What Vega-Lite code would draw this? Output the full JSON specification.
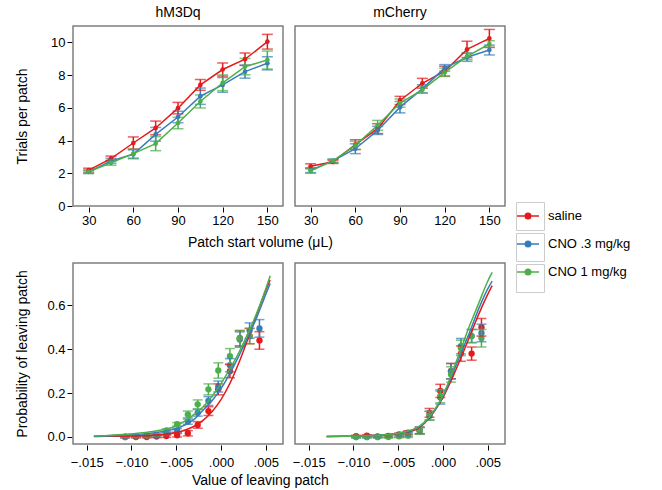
{
  "$schema": "https://vega.github.io/schema/vega-lite/v6.json",
  "padding": {"left": 15, "top": 6, "right": 5, "bottom": 5},
  "background": "white",
  "datasets": {
    "top": [
      {"v":"hM3Dq","g":"saline","vol":30,"m":2.19,"lo":2.07,"hi":2.31},
      {"v":"hM3Dq","g":"saline","vol":45,"m":2.9,"lo":2.75,"hi":3.05},
      {"v":"hM3Dq","g":"saline","vol":60,"m":3.85,"lo":3.48,"hi":4.22},
      {"v":"hM3Dq","g":"saline","vol":75,"m":4.77,"lo":4.35,"hi":5.19},
      {"v":"hM3Dq","g":"saline","vol":90,"m":5.98,"lo":5.63,"hi":6.33},
      {"v":"hM3Dq","g":"saline","vol":105,"m":7.4,"lo":7.07,"hi":7.73},
      {"v":"hM3Dq","g":"saline","vol":120,"m":8.34,"lo":7.94,"hi":8.74},
      {"v":"hM3Dq","g":"saline","vol":135,"m":8.97,"lo":8.59,"hi":9.35},
      {"v":"hM3Dq","g":"saline","vol":150,"m":10.04,"lo":9.59,"hi":10.49},
      {"v":"hM3Dq","g":"CNO .3 mg/kg","vol":30,"m":2.09,"lo":1.99,"hi":2.19},
      {"v":"hM3Dq","g":"CNO .3 mg/kg","vol":45,"m":2.76,"lo":2.61,"hi":2.91},
      {"v":"hM3Dq","g":"CNO .3 mg/kg","vol":60,"m":3.16,"lo":2.89,"hi":3.43},
      {"v":"hM3Dq","g":"CNO .3 mg/kg","vol":75,"m":4.38,"lo":3.96,"hi":4.8},
      {"v":"hM3Dq","g":"CNO .3 mg/kg","vol":90,"m":5.44,"lo":5.09,"hi":5.79},
      {"v":"hM3Dq","g":"CNO .3 mg/kg","vol":105,"m":6.71,"lo":6.21,"hi":7.21},
      {"v":"hM3Dq","g":"CNO .3 mg/kg","vol":120,"m":7.4,"lo":6.95,"hi":7.85},
      {"v":"hM3Dq","g":"CNO .3 mg/kg","vol":135,"m":8.21,"lo":7.81,"hi":8.61},
      {"v":"hM3Dq","g":"CNO .3 mg/kg","vol":150,"m":8.72,"lo":8.32,"hi":9.12},
      {"v":"hM3Dq","g":"CNO 1 mg/kg","vol":30,"m":2.09,"lo":1.99,"hi":2.19},
      {"v":"hM3Dq","g":"CNO 1 mg/kg","vol":45,"m":2.64,"lo":2.49,"hi":2.79},
      {"v":"hM3Dq","g":"CNO 1 mg/kg","vol":60,"m":3.2,"lo":2.93,"hi":3.47},
      {"v":"hM3Dq","g":"CNO 1 mg/kg","vol":75,"m":3.81,"lo":3.38,"hi":4.24},
      {"v":"hM3Dq","g":"CNO 1 mg/kg","vol":90,"m":5.07,"lo":4.72,"hi":5.42},
      {"v":"hM3Dq","g":"CNO 1 mg/kg","vol":105,"m":6.39,"lo":5.99,"hi":6.79},
      {"v":"hM3Dq","g":"CNO 1 mg/kg","vol":120,"m":7.53,"lo":7.05,"hi":8.01},
      {"v":"hM3Dq","g":"CNO 1 mg/kg","vol":135,"m":8.52,"lo":8.02,"hi":9.02},
      {"v":"hM3Dq","g":"CNO 1 mg/kg","vol":150,"m":8.92,"lo":8.37,"hi":9.47},
      {"v":"mCherry","g":"saline","vol":30,"m":2.43,"lo":2.28,"hi":2.58},
      {"v":"mCherry","g":"saline","vol":45,"m":2.7,"lo":2.6,"hi":2.8},
      {"v":"mCherry","g":"saline","vol":60,"m":3.75,"lo":3.45,"hi":4.05},
      {"v":"mCherry","g":"saline","vol":75,"m":4.73,"lo":4.43,"hi":5.03},
      {"v":"mCherry","g":"saline","vol":90,"m":6.45,"lo":6.2,"hi":6.7},
      {"v":"mCherry","g":"saline","vol":105,"m":7.5,"lo":7.2,"hi":7.8},
      {"v":"mCherry","g":"saline","vol":120,"m":8.24,"lo":7.94,"hi":8.54},
      {"v":"mCherry","g":"saline","vol":135,"m":9.57,"lo":9.07,"hi":10.07},
      {"v":"mCherry","g":"saline","vol":150,"m":10.24,"lo":9.69,"hi":10.79},
      {"v":"mCherry","g":"CNO .3 mg/kg","vol":30,"m":2.19,"lo":2.04,"hi":2.34},
      {"v":"mCherry","g":"CNO .3 mg/kg","vol":45,"m":2.76,"lo":2.66,"hi":2.86},
      {"v":"mCherry","g":"CNO .3 mg/kg","vol":60,"m":3.5,"lo":3.2,"hi":3.8},
      {"v":"mCherry","g":"CNO .3 mg/kg","vol":75,"m":4.62,"lo":4.37,"hi":4.87},
      {"v":"mCherry","g":"CNO .3 mg/kg","vol":90,"m":6.04,"lo":5.69,"hi":6.39},
      {"v":"mCherry","g":"CNO .3 mg/kg","vol":105,"m":7.16,"lo":6.91,"hi":7.41},
      {"v":"mCherry","g":"CNO .3 mg/kg","vol":120,"m":8.44,"lo":8.24,"hi":8.64},
      {"v":"mCherry","g":"CNO .3 mg/kg","vol":135,"m":9.09,"lo":8.84,"hi":9.34},
      {"v":"mCherry","g":"CNO .3 mg/kg","vol":150,"m":9.53,"lo":9.23,"hi":9.83},
      {"v":"mCherry","g":"CNO 1 mg/kg","vol":30,"m":2.15,"lo":2.0,"hi":2.3},
      {"v":"mCherry","g":"CNO 1 mg/kg","vol":45,"m":2.76,"lo":2.66,"hi":2.86},
      {"v":"mCherry","g":"CNO 1 mg/kg","vol":60,"m":3.71,"lo":3.46,"hi":3.96},
      {"v":"mCherry","g":"CNO 1 mg/kg","vol":75,"m":4.93,"lo":4.63,"hi":5.23},
      {"v":"mCherry","g":"CNO 1 mg/kg","vol":90,"m":6.29,"lo":6.04,"hi":6.54},
      {"v":"mCherry","g":"CNO 1 mg/kg","vol":105,"m":7.1,"lo":6.9,"hi":7.3},
      {"v":"mCherry","g":"CNO 1 mg/kg","vol":120,"m":8.17,"lo":7.92,"hi":8.42},
      {"v":"mCherry","g":"CNO 1 mg/kg","vol":135,"m":9.15,"lo":8.95,"hi":9.35},
      {"v":"mCherry","g":"CNO 1 mg/kg","vol":150,"m":9.9,"lo":9.7,"hi":10.1}
    ],
    "bot": [
      {"v":"hM3Dq","g":"saline","k":"pt","x":-0.0107,"p":0,"lo":-0.004,"hi":0.004},
      {"v":"hM3Dq","g":"saline","k":"pt","x":-0.0095,"p":0,"lo":-0.004,"hi":0.004},
      {"v":"hM3Dq","g":"saline","k":"pt","x":-0.0083,"p":0,"lo":-0.004,"hi":0.004},
      {"v":"hM3Dq","g":"saline","k":"pt","x":-0.0072,"p":0.002,"lo":-0.003,"hi":0.007},
      {"v":"hM3Dq","g":"saline","k":"pt","x":-0.0061,"p":0.004,"lo":-0.002,"hi":0.01},
      {"v":"hM3Dq","g":"saline","k":"pt","x":-0.0049,"p":0.008,"lo":0,"hi":0.016},
      {"v":"hM3Dq","g":"saline","k":"pt","x":-0.0037,"p":0.017,"lo":0.005,"hi":0.029},
      {"v":"hM3Dq","g":"saline","k":"pt","x":-0.0026,"p":0.055,"lo":0.04,"hi":0.07},
      {"v":"hM3Dq","g":"saline","k":"pt","x":-0.0014,"p":0.118,"lo":0.098,"hi":0.138},
      {"v":"hM3Dq","g":"saline","k":"pt","x":-0.0003,"p":0.217,"lo":0.192,"hi":0.242},
      {"v":"hM3Dq","g":"saline","k":"pt","x":0.001,"p":0.3,"lo":0.27,"hi":0.33},
      {"v":"hM3Dq","g":"saline","k":"pt","x":0.0021,"p":0.45,"lo":0.415,"hi":0.485},
      {"v":"hM3Dq","g":"saline","k":"pt","x":0.0032,"p":0.46,"lo":0.425,"hi":0.495},
      {"v":"hM3Dq","g":"saline","k":"pt","x":0.0043,"p":0.44,"lo":0.4,"hi":0.48},
      {"v":"hM3Dq","g":"CNO .3 mg/kg","k":"pt","x":-0.0107,"p":0,"lo":-0.004,"hi":0.004},
      {"v":"hM3Dq","g":"CNO .3 mg/kg","k":"pt","x":-0.0095,"p":0.002,"lo":-0.002,"hi":0.006},
      {"v":"hM3Dq","g":"CNO .3 mg/kg","k":"pt","x":-0.0083,"p":0.003,"lo":-0.001,"hi":0.007},
      {"v":"hM3Dq","g":"CNO .3 mg/kg","k":"pt","x":-0.0072,"p":0.005,"lo":0,"hi":0.01},
      {"v":"hM3Dq","g":"CNO .3 mg/kg","k":"pt","x":-0.0061,"p":0.015,"lo":0.009,"hi":0.021},
      {"v":"hM3Dq","g":"CNO .3 mg/kg","k":"pt","x":-0.0049,"p":0.03,"lo":0.022,"hi":0.038},
      {"v":"hM3Dq","g":"CNO .3 mg/kg","k":"pt","x":-0.0037,"p":0.07,"lo":0.058,"hi":0.082},
      {"v":"hM3Dq","g":"CNO .3 mg/kg","k":"pt","x":-0.0026,"p":0.11,"lo":0.095,"hi":0.125},
      {"v":"hM3Dq","g":"CNO .3 mg/kg","k":"pt","x":-0.0014,"p":0.164,"lo":0.144,"hi":0.184},
      {"v":"hM3Dq","g":"CNO .3 mg/kg","k":"pt","x":-0.0003,"p":0.23,"lo":0.205,"hi":0.255},
      {"v":"hM3Dq","g":"CNO .3 mg/kg","k":"pt","x":0.001,"p":0.327,"lo":0.297,"hi":0.357},
      {"v":"hM3Dq","g":"CNO .3 mg/kg","k":"pt","x":0.0021,"p":0.444,"lo":0.409,"hi":0.479},
      {"v":"hM3Dq","g":"CNO .3 mg/kg","k":"pt","x":0.0032,"p":0.485,"lo":0.45,"hi":0.52},
      {"v":"hM3Dq","g":"CNO .3 mg/kg","k":"pt","x":0.0043,"p":0.495,"lo":0.455,"hi":0.535},
      {"v":"hM3Dq","g":"CNO 1 mg/kg","k":"pt","x":-0.0107,"p":0.003,"lo":-0.001,"hi":0.007},
      {"v":"hM3Dq","g":"CNO 1 mg/kg","k":"pt","x":-0.0095,"p":0.004,"lo":0,"hi":0.008},
      {"v":"hM3Dq","g":"CNO 1 mg/kg","k":"pt","x":-0.0083,"p":0.005,"lo":0.001,"hi":0.009},
      {"v":"hM3Dq","g":"CNO 1 mg/kg","k":"pt","x":-0.0072,"p":0.01,"lo":0.005,"hi":0.015},
      {"v":"hM3Dq","g":"CNO 1 mg/kg","k":"pt","x":-0.0061,"p":0.03,"lo":0.024,"hi":0.036},
      {"v":"hM3Dq","g":"CNO 1 mg/kg","k":"pt","x":-0.0049,"p":0.058,"lo":0.05,"hi":0.066},
      {"v":"hM3Dq","g":"CNO 1 mg/kg","k":"pt","x":-0.0037,"p":0.103,"lo":0.088,"hi":0.118},
      {"v":"hM3Dq","g":"CNO 1 mg/kg","k":"pt","x":-0.0026,"p":0.149,"lo":0.129,"hi":0.169},
      {"v":"hM3Dq","g":"CNO 1 mg/kg","k":"pt","x":-0.0014,"p":0.217,"lo":0.192,"hi":0.242},
      {"v":"hM3Dq","g":"CNO 1 mg/kg","k":"pt","x":-0.0003,"p":0.303,"lo":0.268,"hi":0.338},
      {"v":"hM3Dq","g":"CNO 1 mg/kg","k":"pt","x":0.001,"p":0.368,"lo":0.333,"hi":0.403},
      {"v":"hM3Dq","g":"CNO 1 mg/kg","k":"pt","x":0.0021,"p":0.45,"lo":0.415,"hi":0.485},
      {"v":"hM3Dq","g":"CNO 1 mg/kg","k":"pt","x":0.0032,"p":0.46,"lo":0.425,"hi":0.495},
      {"v":"mCherry","g":"saline","k":"pt","x":-0.0097,"p":0.004,"lo":0,"hi":0.008},
      {"v":"mCherry","g":"saline","k":"pt","x":-0.0085,"p":0.006,"lo":0.002,"hi":0.01},
      {"v":"mCherry","g":"saline","k":"pt","x":-0.0073,"p":0.003,"lo":-0.001,"hi":0.007},
      {"v":"mCherry","g":"saline","k":"pt","x":-0.0061,"p":0.005,"lo":0,"hi":0.01},
      {"v":"mCherry","g":"saline","k":"pt","x":-0.0049,"p":0.012,"lo":0.006,"hi":0.018},
      {"v":"mCherry","g":"saline","k":"pt","x":-0.0039,"p":0.02,"lo":0.012,"hi":0.028},
      {"v":"mCherry","g":"saline","k":"pt","x":-0.0026,"p":0.03,"lo":0.015,"hi":0.045},
      {"v":"mCherry","g":"saline","k":"pt","x":-0.0015,"p":0.11,"lo":0.09,"hi":0.13},
      {"v":"mCherry","g":"saline","k":"pt","x":-0.0003,"p":0.21,"lo":0.18,"hi":0.24},
      {"v":"mCherry","g":"saline","k":"pt","x":0.0009,"p":0.3,"lo":0.265,"hi":0.335},
      {"v":"mCherry","g":"saline","k":"pt","x":0.002,"p":0.38,"lo":0.345,"hi":0.415},
      {"v":"mCherry","g":"saline","k":"pt","x":0.0032,"p":0.38,"lo":0.35,"hi":0.41},
      {"v":"mCherry","g":"saline","k":"pt","x":0.0043,"p":0.5,"lo":0.46,"hi":0.54},
      {"v":"mCherry","g":"CNO .3 mg/kg","k":"pt","x":-0.0097,"p":0,"lo":-0.004,"hi":0.004},
      {"v":"mCherry","g":"CNO .3 mg/kg","k":"pt","x":-0.0085,"p":0,"lo":-0.004,"hi":0.004},
      {"v":"mCherry","g":"CNO .3 mg/kg","k":"pt","x":-0.0073,"p":0,"lo":-0.004,"hi":0.004},
      {"v":"mCherry","g":"CNO .3 mg/kg","k":"pt","x":-0.0061,"p":0.003,"lo":-0.002,"hi":0.008},
      {"v":"mCherry","g":"CNO .3 mg/kg","k":"pt","x":-0.0049,"p":0.005,"lo":-0.001,"hi":0.011},
      {"v":"mCherry","g":"CNO .3 mg/kg","k":"pt","x":-0.0039,"p":0.012,"lo":0.004,"hi":0.02},
      {"v":"mCherry","g":"CNO .3 mg/kg","k":"pt","x":-0.0026,"p":0.03,"lo":0.015,"hi":0.045},
      {"v":"mCherry","g":"CNO .3 mg/kg","k":"pt","x":-0.0015,"p":0.097,"lo":0.077,"hi":0.117},
      {"v":"mCherry","g":"CNO .3 mg/kg","k":"pt","x":-0.0003,"p":0.18,"lo":0.15,"hi":0.21},
      {"v":"mCherry","g":"CNO .3 mg/kg","k":"pt","x":0.0009,"p":0.3,"lo":0.265,"hi":0.335},
      {"v":"mCherry","g":"CNO .3 mg/kg","k":"pt","x":0.002,"p":0.414,"lo":0.379,"hi":0.449},
      {"v":"mCherry","g":"CNO .3 mg/kg","k":"pt","x":0.0032,"p":0.46,"lo":0.43,"hi":0.49},
      {"v":"mCherry","g":"CNO .3 mg/kg","k":"pt","x":0.0043,"p":0.474,"lo":0.434,"hi":0.514},
      {"v":"mCherry","g":"CNO 1 mg/kg","k":"pt","x":-0.0097,"p":0,"lo":-0.004,"hi":0.004},
      {"v":"mCherry","g":"CNO 1 mg/kg","k":"pt","x":-0.0085,"p":0,"lo":-0.004,"hi":0.004},
      {"v":"mCherry","g":"CNO 1 mg/kg","k":"pt","x":-0.0073,"p":0,"lo":-0.004,"hi":0.004},
      {"v":"mCherry","g":"CNO 1 mg/kg","k":"pt","x":-0.0061,"p":0,"lo":-0.005,"hi":0.005},
      {"v":"mCherry","g":"CNO 1 mg/kg","k":"pt","x":-0.0049,"p":0.003,"lo":-0.003,"hi":0.009},
      {"v":"mCherry","g":"CNO 1 mg/kg","k":"pt","x":-0.0039,"p":0.006,"lo":-0.002,"hi":0.014},
      {"v":"mCherry","g":"CNO 1 mg/kg","k":"pt","x":-0.0026,"p":0.027,"lo":0.012,"hi":0.042},
      {"v":"mCherry","g":"CNO 1 mg/kg","k":"pt","x":-0.0015,"p":0.097,"lo":0.077,"hi":0.117},
      {"v":"mCherry","g":"CNO 1 mg/kg","k":"pt","x":-0.0003,"p":0.186,"lo":0.156,"hi":0.216},
      {"v":"mCherry","g":"CNO 1 mg/kg","k":"pt","x":0.0009,"p":0.285,"lo":0.25,"hi":0.32},
      {"v":"mCherry","g":"CNO 1 mg/kg","k":"pt","x":0.002,"p":0.406,"lo":0.371,"hi":0.441},
      {"v":"mCherry","g":"CNO 1 mg/kg","k":"pt","x":0.0032,"p":0.46,"lo":0.43,"hi":0.49},
      {"v":"mCherry","g":"CNO 1 mg/kg","k":"pt","x":0.0043,"p":0.45,"lo":0.41,"hi":0.49},
      {"v":"hM3Dq","g":"saline","k":"fit","x":-0.0142,"p":0.002},
      {"v":"hM3Dq","g":"saline","k":"fit","x":-0.013,"p":0.003},
      {"v":"hM3Dq","g":"saline","k":"fit","x":-0.011,"p":0.004},
      {"v":"hM3Dq","g":"saline","k":"fit","x":-0.009,"p":0.006},
      {"v":"hM3Dq","g":"saline","k":"fit","x":-0.007,"p":0.01},
      {"v":"hM3Dq","g":"saline","k":"fit","x":-0.005,"p":0.02},
      {"v":"hM3Dq","g":"saline","k":"fit","x":-0.004,"p":0.032},
      {"v":"hM3Dq","g":"saline","k":"fit","x":-0.003,"p":0.049},
      {"v":"hM3Dq","g":"saline","k":"fit","x":-0.002,"p":0.076},
      {"v":"hM3Dq","g":"saline","k":"fit","x":-0.001,"p":0.115},
      {"v":"hM3Dq","g":"saline","k":"fit","x":0,"p":0.17},
      {"v":"hM3Dq","g":"saline","k":"fit","x":0.001,"p":0.244},
      {"v":"hM3Dq","g":"saline","k":"fit","x":0.002,"p":0.338},
      {"v":"hM3Dq","g":"saline","k":"fit","x":0.003,"p":0.446},
      {"v":"hM3Dq","g":"saline","k":"fit","x":0.004,"p":0.56},
      {"v":"hM3Dq","g":"saline","k":"fit","x":0.005,"p":0.668},
      {"v":"hM3Dq","g":"saline","k":"fit","x":0.0055,"p":0.716},
      {"v":"hM3Dq","g":"CNO .3 mg/kg","k":"fit","x":-0.0142,"p":0.003},
      {"v":"hM3Dq","g":"CNO .3 mg/kg","k":"fit","x":-0.013,"p":0.005},
      {"v":"hM3Dq","g":"CNO .3 mg/kg","k":"fit","x":-0.011,"p":0.008},
      {"v":"hM3Dq","g":"CNO .3 mg/kg","k":"fit","x":-0.009,"p":0.013},
      {"v":"hM3Dq","g":"CNO .3 mg/kg","k":"fit","x":-0.007,"p":0.022},
      {"v":"hM3Dq","g":"CNO .3 mg/kg","k":"fit","x":-0.005,"p":0.038},
      {"v":"hM3Dq","g":"CNO .3 mg/kg","k":"fit","x":-0.004,"p":0.055},
      {"v":"hM3Dq","g":"CNO .3 mg/kg","k":"fit","x":-0.003,"p":0.08},
      {"v":"hM3Dq","g":"CNO .3 mg/kg","k":"fit","x":-0.002,"p":0.122},
      {"v":"hM3Dq","g":"CNO .3 mg/kg","k":"fit","x":-0.001,"p":0.165},
      {"v":"hM3Dq","g":"CNO .3 mg/kg","k":"fit","x":0,"p":0.22},
      {"v":"hM3Dq","g":"CNO .3 mg/kg","k":"fit","x":0.001,"p":0.29},
      {"v":"hM3Dq","g":"CNO .3 mg/kg","k":"fit","x":0.002,"p":0.37},
      {"v":"hM3Dq","g":"CNO .3 mg/kg","k":"fit","x":0.003,"p":0.455},
      {"v":"hM3Dq","g":"CNO .3 mg/kg","k":"fit","x":0.004,"p":0.545},
      {"v":"hM3Dq","g":"CNO .3 mg/kg","k":"fit","x":0.005,"p":0.65},
      {"v":"hM3Dq","g":"CNO .3 mg/kg","k":"fit","x":0.0055,"p":0.7},
      {"v":"hM3Dq","g":"CNO 1 mg/kg","k":"fit","x":-0.0142,"p":0.004},
      {"v":"hM3Dq","g":"CNO 1 mg/kg","k":"fit","x":-0.013,"p":0.006},
      {"v":"hM3Dq","g":"CNO 1 mg/kg","k":"fit","x":-0.011,"p":0.011},
      {"v":"hM3Dq","g":"CNO 1 mg/kg","k":"fit","x":-0.009,"p":0.018},
      {"v":"hM3Dq","g":"CNO 1 mg/kg","k":"fit","x":-0.007,"p":0.03},
      {"v":"hM3Dq","g":"CNO 1 mg/kg","k":"fit","x":-0.005,"p":0.05},
      {"v":"hM3Dq","g":"CNO 1 mg/kg","k":"fit","x":-0.004,"p":0.073},
      {"v":"hM3Dq","g":"CNO 1 mg/kg","k":"fit","x":-0.003,"p":0.103},
      {"v":"hM3Dq","g":"CNO 1 mg/kg","k":"fit","x":-0.002,"p":0.137},
      {"v":"hM3Dq","g":"CNO 1 mg/kg","k":"fit","x":-0.001,"p":0.185},
      {"v":"hM3Dq","g":"CNO 1 mg/kg","k":"fit","x":0,"p":0.243},
      {"v":"hM3Dq","g":"CNO 1 mg/kg","k":"fit","x":0.001,"p":0.31},
      {"v":"hM3Dq","g":"CNO 1 mg/kg","k":"fit","x":0.002,"p":0.385},
      {"v":"hM3Dq","g":"CNO 1 mg/kg","k":"fit","x":0.003,"p":0.47},
      {"v":"hM3Dq","g":"CNO 1 mg/kg","k":"fit","x":0.004,"p":0.565},
      {"v":"hM3Dq","g":"CNO 1 mg/kg","k":"fit","x":0.005,"p":0.675},
      {"v":"hM3Dq","g":"CNO 1 mg/kg","k":"fit","x":0.0055,"p":0.735},
      {"v":"mCherry","g":"saline","k":"fit","x":-0.013,"p":0.002},
      {"v":"mCherry","g":"saline","k":"fit","x":-0.011,"p":0.003},
      {"v":"mCherry","g":"saline","k":"fit","x":-0.009,"p":0.005},
      {"v":"mCherry","g":"saline","k":"fit","x":-0.007,"p":0.009},
      {"v":"mCherry","g":"saline","k":"fit","x":-0.005,"p":0.016},
      {"v":"mCherry","g":"saline","k":"fit","x":-0.004,"p":0.024},
      {"v":"mCherry","g":"saline","k":"fit","x":-0.003,"p":0.034},
      {"v":"mCherry","g":"saline","k":"fit","x":-0.002,"p":0.065},
      {"v":"mCherry","g":"saline","k":"fit","x":-0.001,"p":0.115},
      {"v":"mCherry","g":"saline","k":"fit","x":0,"p":0.18},
      {"v":"mCherry","g":"saline","k":"fit","x":0.001,"p":0.265},
      {"v":"mCherry","g":"saline","k":"fit","x":0.002,"p":0.36},
      {"v":"mCherry","g":"saline","k":"fit","x":0.003,"p":0.46},
      {"v":"mCherry","g":"saline","k":"fit","x":0.004,"p":0.56},
      {"v":"mCherry","g":"saline","k":"fit","x":0.005,"p":0.65},
      {"v":"mCherry","g":"saline","k":"fit","x":0.0055,"p":0.69},
      {"v":"mCherry","g":"CNO .3 mg/kg","k":"fit","x":-0.013,"p":0.002},
      {"v":"mCherry","g":"CNO .3 mg/kg","k":"fit","x":-0.011,"p":0.003},
      {"v":"mCherry","g":"CNO .3 mg/kg","k":"fit","x":-0.009,"p":0.005},
      {"v":"mCherry","g":"CNO .3 mg/kg","k":"fit","x":-0.007,"p":0.009},
      {"v":"mCherry","g":"CNO .3 mg/kg","k":"fit","x":-0.005,"p":0.017},
      {"v":"mCherry","g":"CNO .3 mg/kg","k":"fit","x":-0.004,"p":0.025},
      {"v":"mCherry","g":"CNO .3 mg/kg","k":"fit","x":-0.003,"p":0.038},
      {"v":"mCherry","g":"CNO .3 mg/kg","k":"fit","x":-0.002,"p":0.067},
      {"v":"mCherry","g":"CNO .3 mg/kg","k":"fit","x":-0.001,"p":0.117},
      {"v":"mCherry","g":"CNO .3 mg/kg","k":"fit","x":0,"p":0.185},
      {"v":"mCherry","g":"CNO .3 mg/kg","k":"fit","x":0.001,"p":0.28},
      {"v":"mCherry","g":"CNO .3 mg/kg","k":"fit","x":0.002,"p":0.38},
      {"v":"mCherry","g":"CNO .3 mg/kg","k":"fit","x":0.003,"p":0.48},
      {"v":"mCherry","g":"CNO .3 mg/kg","k":"fit","x":0.004,"p":0.585},
      {"v":"mCherry","g":"CNO .3 mg/kg","k":"fit","x":0.005,"p":0.675},
      {"v":"mCherry","g":"CNO .3 mg/kg","k":"fit","x":0.0055,"p":0.71},
      {"v":"mCherry","g":"CNO 1 mg/kg","k":"fit","x":-0.013,"p":0.002},
      {"v":"mCherry","g":"CNO 1 mg/kg","k":"fit","x":-0.011,"p":0.003},
      {"v":"mCherry","g":"CNO 1 mg/kg","k":"fit","x":-0.009,"p":0.005},
      {"v":"mCherry","g":"CNO 1 mg/kg","k":"fit","x":-0.007,"p":0.009},
      {"v":"mCherry","g":"CNO 1 mg/kg","k":"fit","x":-0.005,"p":0.017},
      {"v":"mCherry","g":"CNO 1 mg/kg","k":"fit","x":-0.004,"p":0.026},
      {"v":"mCherry","g":"CNO 1 mg/kg","k":"fit","x":-0.003,"p":0.04},
      {"v":"mCherry","g":"CNO 1 mg/kg","k":"fit","x":-0.002,"p":0.07},
      {"v":"mCherry","g":"CNO 1 mg/kg","k":"fit","x":-0.001,"p":0.12},
      {"v":"mCherry","g":"CNO 1 mg/kg","k":"fit","x":0,"p":0.19},
      {"v":"mCherry","g":"CNO 1 mg/kg","k":"fit","x":0.001,"p":0.29},
      {"v":"mCherry","g":"CNO 1 mg/kg","k":"fit","x":0.002,"p":0.4},
      {"v":"mCherry","g":"CNO 1 mg/kg","k":"fit","x":0.003,"p":0.51},
      {"v":"mCherry","g":"CNO 1 mg/kg","k":"fit","x":0.004,"p":0.61},
      {"v":"mCherry","g":"CNO 1 mg/kg","k":"fit","x":0.005,"p":0.71},
      {"v":"mCherry","g":"CNO 1 mg/kg","k":"fit","x":0.0055,"p":0.75}
    ]
  },
  "vconcat": [
    {
      "data": {"name": "top"},
      "transform": [{"calculate": "datum.g + ' '", "as": "g2"}],
      "title": {"text": "Patch start volume (μL)", "orient": "bottom", "anchor": "middle", "fontSize": 14, "fontWeight": "normal", "color": "#000000", "offset": 9},
      "facet": {"column": {"field": "v", "type": "nominal", "header": {"title": null, "labelFontSize": 14, "labelPadding": 5, "labelColor": "#000000"}}},
      "spacing": 10,
      "spec": {
        "width": 210,
        "height": 180,
        "encoding": {
          "x": {"field": "vol", "type": "quantitative", "title": null, "scale": {"domain": [19.5, 160.5], "nice": false, "zero": false}, "axis": {"values": [30, 60, 90, 120, 150], "title": null}},
          "color": {"field": "g", "type": "nominal", "scale": {"domain": ["saline", "CNO .3 mg/kg", "CNO 1 mg/kg"], "range": ["#E41A1C", "#377EB8", "#4DAF4A"]},
            "legend": {"orient": "none", "legendX": 443, "legendY": 178, "title": null, "symbolType": "M-1,0H1M-0.25,0A0.25,0.25 0 1,0 0.25,0A0.25,0.25 0 1,0 -0.25,0Z", "symbolSize": 484, "symbolStrokeWidth": 1.5, "labelFontSize": 13, "labelColor": "#000000", "labelOffset": 8, "rowPadding": 9,
              "encode": {"symbols": {"update": {"fill": {"scale": "color", "field": "value"}, "stroke": {"scale": "color", "field": "value"}, "opacity": {"value": 1}}}}}}
        },
        "layer": [
          {"mark": {"type": "rule", "strokeWidth": 1.5}, "encoding": {"y": {"field": "lo", "type": "quantitative", "title": "Trials per patch", "scale": {"domain": [0, 11], "nice": false}, "axis": {"values": [0, 2, 4, 6, 8, 10], "title": "Trials per patch"}}, "y2": {"field": "hi"}}},
          {"mark": {"type": "tick", "orient": "horizontal", "size": 11, "thickness": 1.5}, "encoding": {"y": {"field": "lo", "type": "quantitative", "title": "Trials per patch", "axis": {"values": [0, 2, 4, 6, 8, 10], "title": "Trials per patch"}}}},
          {"mark": {"type": "tick", "orient": "horizontal", "size": 11, "thickness": 1.5}, "encoding": {"y": {"field": "hi", "type": "quantitative", "title": "Trials per patch", "axis": {"values": [0, 2, 4, 6, 8, 10], "title": "Trials per patch"}}}},
          {"mark": {"type": "line", "strokeWidth": 1.5}, "encoding": {"y": {"field": "m", "type": "quantitative", "title": "Trials per patch", "axis": {"values": [0, 2, 4, 6, 8, 10], "title": "Trials per patch"}}}},
          {"mark": {"type": "point", "filled": true, "size": 22, "opacity": 1}, "encoding": {"y": {"field": "m", "type": "quantitative", "title": "Trials per patch", "axis": {"values": [0, 2, 4, 6, 8, 10], "title": "Trials per patch"}}}},
          {"mark": {"type": "point", "filled": false, "size": 22, "opacity": 0}, "encoding": {"y": {"field": "m", "type": "quantitative", "title": "Trials per patch", "axis": {"values": [0, 2, 4, 6, 8, 10], "title": "Trials per patch"}},
            "shape": {"field": "g2", "type": "nominal", "scale": {"domain": ["saline ", "CNO .3 mg/kg ", "CNO 1 mg/kg "], "range": ["square"]},
              "legend": {"orient": "none", "legendX": 443, "legendY": 176, "title": null, "symbolType": "square", "symbolSize": 784, "symbolFillColor": "transparent", "symbolStrokeColor": "#cccccc", "symbolStrokeWidth": 1, "labelExpr": "''", "labelFontSize": 13, "rowPadding": -4,
                "encode": {"symbols": {"update": {"shape": {"value": "square"}, "fill": {"value": "transparent"}, "stroke": {"value": "#cccccc"}, "strokeWidth": {"value": 1}, "opacity": {"value": 1}, "size": {"value": 784}}}}}}}}
        ]
      }
    },
    {
      "data": {"name": "bot"},
      "title": {"text": "Value of leaving patch", "orient": "bottom", "anchor": "middle", "fontSize": 14, "fontWeight": "normal", "color": "#000000", "offset": 5},
      "facet": {"column": {"field": "v", "type": "nominal", "header": {"title": null, "labels": false}}},
      "spacing": 10,
      "spec": {
        "width": 210,
        "height": 181,
        "encoding": {
          "x": {"field": "x", "type": "quantitative", "title": null, "scale": {"domain": [-0.01653, 0.00693], "nice": false, "zero": false}, "axis": {"values": [-0.015, -0.01, -0.005, 0, 0.005], "title": null, "labelPadding": 6, "labelExpr": "replace(format(datum.value, '.3f'), '0.', '.')"}},
          "color": {"field": "g", "type": "nominal", "scale": {"domain": ["saline", "CNO .3 mg/kg", "CNO 1 mg/kg"], "range": ["#E41A1C", "#377EB8", "#4DAF4A"]}}
        },
        "layer": [
          {"transform": [{"filter": "datum.k === 'pt'"}], "mark": {"type": "point", "filled": true, "size": 40, "opacity": 1}, "encoding": {"y": {"field": "p", "type": "quantitative", "title": "Probability of leaving patch", "scale": {"domain": [-0.032, 0.793], "nice": false, "zero": false}, "axis": {"values": [0, 0.2, 0.4, 0.6], "format": ".1f", "title": "Probability of leaving patch"}}}},
          {"transform": [{"filter": "datum.k === 'pt'"}], "mark": {"type": "rule", "strokeWidth": 1.5}, "encoding": {"y": {"field": "lo", "type": "quantitative", "title": "Probability of leaving patch", "axis": {"values": [0, 0.2, 0.4, 0.6], "format": ".1f", "title": "Probability of leaving patch"}}, "y2": {"field": "hi"}}},
          {"transform": [{"filter": "datum.k === 'pt'"}], "mark": {"type": "tick", "orient": "horizontal", "size": 10, "thickness": 1.5}, "encoding": {"y": {"field": "lo", "type": "quantitative", "title": "Probability of leaving patch", "axis": {"values": [0, 0.2, 0.4, 0.6], "format": ".1f", "title": "Probability of leaving patch"}}}},
          {"transform": [{"filter": "datum.k === 'pt'"}], "mark": {"type": "tick", "orient": "horizontal", "size": 10, "thickness": 1.5}, "encoding": {"y": {"field": "hi", "type": "quantitative", "title": "Probability of leaving patch", "axis": {"values": [0, 0.2, 0.4, 0.6], "format": ".1f", "title": "Probability of leaving patch"}}}},
          {"transform": [{"filter": "datum.k === 'fit'"}], "mark": {"type": "line", "strokeWidth": 1.5, "interpolate": "monotone"}, "encoding": {"y": {"field": "p", "type": "quantitative", "title": "Probability of leaving patch", "axis": {"values": [0, 0.2, 0.4, 0.6], "format": ".1f", "title": "Probability of leaving patch"}}}}
        ]
      }
    }
  ],
  "spacing": 12,
  "resolve": {"scale": {"x": "independent", "y": "independent"}},
  "config": {
    "font": "Liberation Sans",
    "view": {"stroke": "#7f7f7f", "strokeWidth": 1.5},
    "axis": {"grid": false, "domain": false, "tickColor": "#000000", "tickSize": 5, "tickWidth": 1, "labelColor": "#000000", "labelFontSize": 13, "labelPadding": 2, "titleFontSize": 14, "titleFontWeight": "normal", "titleColor": "#000000", "labelOverlap": false},
    "axisX": {"labelFlush": false, "titlePadding": 5},
    "axisY": {"minExtent": 33, "maxExtent": 33, "titlePadding": 10},
    "header": {"labelFont": "Liberation Sans"},
    "title": {"font": "Liberation Sans"}
  }
}
